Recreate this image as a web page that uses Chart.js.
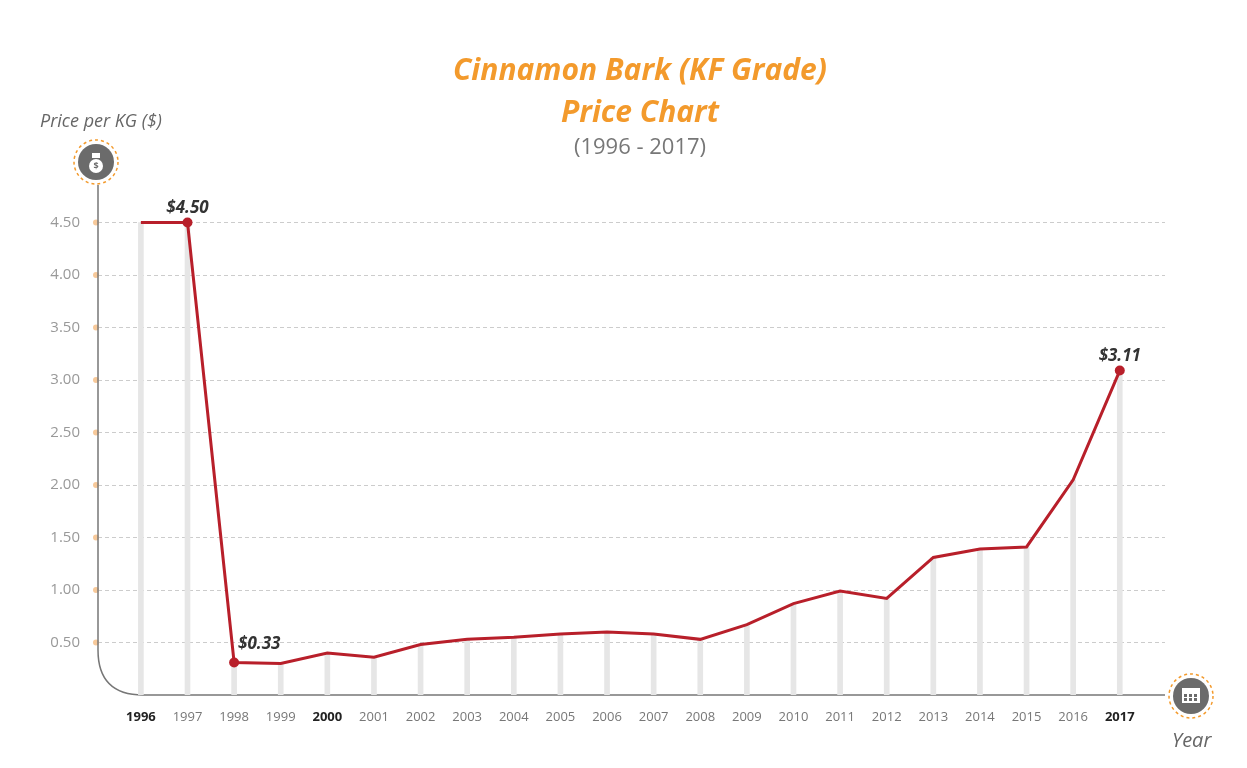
<!DOCTYPE html>
<html>
<head>
<meta charset="utf-8">
<script src="https://cdn.jsdelivr.net/npm/chart.js@4"></script>
<style>
body{margin:0;background:#fff;font-family:"Open Sans",sans-serif;}
#wrap{position:relative;width:1247px;height:768px;}
.t{position:absolute;left:0;width:1280px;text-align:center;}
</style>
</head>
<body>
<div id="wrap">
<canvas id="c" width="1247" height="768"></canvas>
<div class="t" style="top:48px;color:#f39a2c;font:italic bold 30px 'Open Sans';">Cinnamon Bark (KF Grade)</div>
<div class="t" style="top:90px;color:#f39a2c;font:italic bold 30px 'Open Sans';">Price Chart</div>
<div class="t" style="top:130px;color:#777;font:22px 'Open Sans';">(1996 - 2017)</div>
<div style="position:absolute;left:40px;top:108px;color:#666;font:italic 18px 'Open Sans';">Price per KG ($)</div>
<div style="position:absolute;left:1172px;top:726px;color:#666;font:italic 20px 'Open Sans';">Year</div>
</div>
<script>
const years = [1996,1997,1998,1999,2000,2001,2002,2003,2004,2005,2006,2007,2008,2009,2010,2011,2012,2013,2014,2015,2016,2017];
const prices = [4.50,4.50,0.31,0.30,0.40,0.36,0.48,0.53,0.55,0.58,0.60,0.58,0.53,0.67,0.87,0.99,0.92,1.31,1.39,1.41,2.05,3.09];
const labelYears = {1997:'$4.50',1998:'$0.33',2017:'$3.11'};
const boldYears = [1996,2000,2017];
const yTicks = [0.5,1,1.5,2,2.5,3,3.5,4,4.5];

const pts = years.map((y,i) => ({x:y,y:prices[i]}));

const decor = {
    id:'decor',
    beforeDatasetsDraw(chart){
        const c = chart.ctx, a = chart.chartArea, ys = chart.scales.y;
        c.save();
        // y tick dots
        c.fillStyle = '#f7c99a';
        yTicks.forEach(v => { c.beginPath(); c.arc(96, ys.getPixelForValue(v), 3, 0, Math.PI*2); c.fill(); });
        // axes
        c.strokeStyle = '#777'; c.lineWidth = 1.5;
        c.beginPath();
        c.moveTo(98, 185);
        c.lineTo(98, a.bottom-45);
        c.quadraticCurveTo(98, a.bottom, 143, a.bottom);
        c.lineTo(a.right, a.bottom);
        c.stroke();
        c.restore();
    },
    afterDatasetsDraw(chart){
        const c = chart.ctx, xs = chart.scales.x, ys = chart.scales.y;
        c.save();
        c.font = 'italic bold 17px "Open Sans"';
        c.fillStyle = '#333';
        c.textAlign = 'center';
        years.forEach((yr,i) => {
            if(!labelYears[yr]) return;
            let px = xs.getPixelForValue(yr), py = ys.getPixelForValue(prices[i]);
            if(yr == 1998) { c.textAlign='left'; c.fillText(labelYears[yr], px+4, py-13); c.textAlign='center'; }
            else c.fillText(labelYears[yr], px, py-10);
        });
        // icons
        function icon(x,y){
            c.setLineDash([3,3]); c.strokeStyle='#f39a2c'; c.lineWidth=1.5;
            c.beginPath(); c.arc(x,y,22,0,Math.PI*2); c.stroke(); c.setLineDash([]);
            c.fillStyle='#6b6b6b'; c.beginPath(); c.arc(x,y,18,0,Math.PI*2); c.fill();
        }
        icon(96,162);
        c.fillStyle='#fff'; c.beginPath(); c.arc(96,166,7,0,Math.PI*2); c.fill();
        c.fillRect(92,153,8,5);
        c.fillStyle='#6b6b6b'; c.font='bold 9px "Open Sans"'; c.fillText('$',96,169);
        icon(1191,696);
        c.fillStyle='#fff'; c.fillRect(1182,688,18,15);
        c.fillStyle='#6b6b6b';
        for(let r=0;r<2;r++) for(let k=0;k<3;k++) c.fillRect(1184+k*5,694+r*4,3,3);
        c.restore();
    }
};

new Chart(document.getElementById('c'), {
    data: {
        datasets: [{
            type:'line',
            data: pts,
            borderColor:'#b81f2a',
            borderWidth:3,
            tension:0,
            pointRadius: ctx => labelYears[years[ctx.dataIndex]] ? 5 : 0,
            pointBackgroundColor:'#b81f2a',
            pointBorderWidth:0
        },{
            type:'bar',
            data: pts,
            backgroundColor:'#e6e6e6',
            barThickness:5
        }]
    },
    options: {
        responsive:false,
        animation:false,
        layout:{padding:{top:170,right:82,bottom:33,left:0}},
        plugins:{legend:{display:false},tooltip:{enabled:false}},
        scales:{
            x:{
                type:'linear', min:1995.08, max:2017.97,
                offset:false,
                afterBuildTicks: s => { s.ticks = years.map(v => ({value:v})); },
                afterFit: s => { s.height = 40; },
                grid:{display:false, offset:false},
                border:{display:false},
                ticks:{
                    padding:6,
                    callback: v => String(v),
                    color: ctx => boldYears.includes(ctx.tick.value) ? '#222' : '#777',
                    font: ctx => ({family:'Open Sans', size:13, weight: boldYears.includes(ctx.tick && ctx.tick.value) ? 'bold' : 'normal'})
                }
            },
            y:{
                min:0, max:5,
                afterBuildTicks: s => { s.ticks = yTicks.map(v => ({value:v})); },
                afterFit: s => { s.width = 98; },
                border:{display:false, dash:[4,3]},
                grid:{color:'#ccc', drawTicks:false},
                ticks:{
                    padding:18,
                    color:'#999',
                    font:{family:'Open Sans', size:15},
                    callback: v => v.toFixed(2)
                }
            }
        }
    },
    plugins:[decor]
});
</script>
</body>
</html>
